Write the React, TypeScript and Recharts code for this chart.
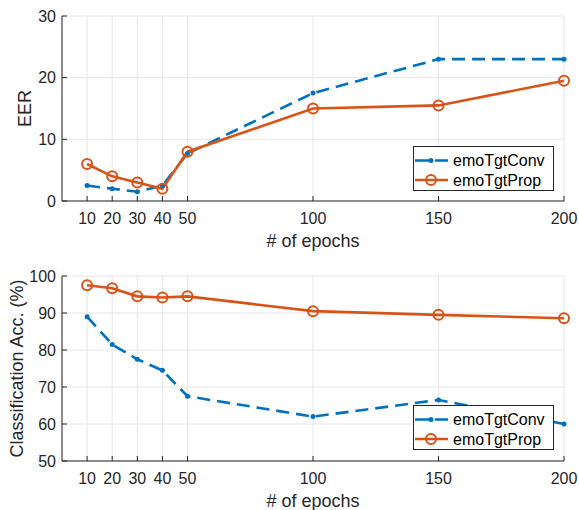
import React from 'react';
import { LineChart, Line, XAxis, YAxis, CartesianGrid, Legend } from 'recharts';

const epochs = [10, 20, 30, 40, 50, 100, 150, 200];
const eerConv = [2.5, 2, 1.5, 2.5, 7.7, 17.5, 23, 23];
const eerProp = [6, 4, 3, 2, 8, 15, 15.5, 19.5];
const accConv = [89, 81.5, 77.5, 74.5, 67.5, 62, 66.5, 60];
const accProp = [97.5, 96.7, 94.5, 94.2, 94.5, 90.5, 89.5, 88.6];
const xTicks = [10, 20, 30, 40, 50, 100, 150, 200];
const eerTicks = [0, 10, 20, 30];
const accTicks = [50, 60, 70, 80, 90, 100];
const seriesNames = ['emoTgtConv', 'emoTgtProp'];

const BLUE = '#0072BD';
const ORANGE = '#D95319';
const AX = '#262626';
const FONT = '"Liberation Sans", Arial, Helvetica, sans-serif';
const DASH = '13 7';

const eerData = epochs.map((e, i) => ({ epoch: e, conv: eerConv[i], prop: eerProp[i] }));
const accData = epochs.map((e, i) => ({ epoch: e, conv: accConv[i], prop: accProp[i] }));

const BottomTick = (p: any) => (
  <g>
    <line x1={p.x} y1={p.y} x2={p.x} y2={p.y - 5} stroke={AX} />
    <text x={p.x} y={p.y + 17} textAnchor="middle" dominantBaseline="central" fontSize={16} fill={AX} fontFamily={FONT}>
      {p.payload.value}
    </text>
  </g>
);
const TopTick = (p: any) => (
  <line x1={p.x} y1={p.y} x2={p.x} y2={p.y + 5} stroke={AX} />
);
const LeftTick = (p: any) => (
  <g>
    <line x1={p.x} y1={p.y} x2={p.x + 5} y2={p.y} stroke={AX} />
    <text x={p.x - 6} y={p.y} textAnchor="end" dominantBaseline="central" fontSize={16} fill={AX} fontFamily={FONT}>
      {p.payload.value}
    </text>
  </g>
);
const RightTick = (p: any) => (
  <line x1={p.x} y1={p.y} x2={p.x - 5} y2={p.y} stroke={AX} />
);

const XTitle = (p: any) => {
  const vb = p.viewBox;
  return (
    <text x={vb.x + vb.width / 2} y={vb.y + 46} textAnchor="middle" fontSize={18} fill={AX} fontFamily={FONT}>
      {p.value}
    </text>
  );
};
const makeYTitle = (dx: number) => (p: any) => {
  const vb = p.viewBox;
  const cx = vb.x + dx;
  const cy = vb.y + vb.height / 2;
  return (
    <text x={cx} y={cy} transform={`rotate(-90 ${cx} ${cy})`} textAnchor="middle" dominantBaseline="central" fontSize={18} fill={AX} fontFamily={FONT}>
      {p.value}
    </text>
  );
};

const LegendBox = () => (
  <svg width={141} height={45} style={{ display: 'block' }}>
    <rect x={0.5} y={0.5} width={140} height={44} fill="#fff" stroke={AX} strokeWidth={1} />
    <line x1={2} y1={14.5} x2={35} y2={14.5} stroke={BLUE} strokeWidth={2.6} strokeDasharray="14 6" />
    <circle cx={18} cy={14.5} r={2.5} fill={BLUE} />
    <text x={40} y={14.5} dominantBaseline="central" fontSize={16} fill="#000" fontFamily={FONT}>{seriesNames[0]}</text>
    <line x1={2} y1={34} x2={35} y2={34} stroke={ORANGE} strokeWidth={2.6} />
    <circle cx={18} cy={34} r={5} fill="none" stroke={ORANGE} strokeWidth={2} />
    <text x={40} y={34} dominantBaseline="central" fontSize={16} fill="#000" fontFamily={FONT}>{seriesNames[1]}</text>
  </svg>
);

const Panel = ({ data, yTicks, yDomain, yTitle, yTitleDx, top, legendTop }: any) => (
  <div style={{ position: 'absolute', left: 0, top }}>
    <LineChart width={579} height={255} data={data} margin={{ top: top === 0 ? 16 : 21, right: 15, left: 0, bottom: 0 }}>
      <CartesianGrid stroke="#e6e6e6" />
      <XAxis
        dataKey="epoch"
        type="number"
        domain={[0, 200]}
        ticks={xTicks}
        interval={0}
        height={top === 0 ? 54 : 49}
        stroke={AX}
        tickLine={false}
        tickSize={0}
        tickMargin={0}
        tick={BottomTick}
        label={{ value: '# of epochs', content: XTitle }}
      />
      <XAxis xAxisId="top" orientation="top" type="number" domain={[0, 200]} ticks={xTicks} interval={0} height={0} stroke={AX} tickLine={false} tickSize={0} tickMargin={0} tick={TopTick} />
      <YAxis
        type="number"
        domain={yDomain}
        ticks={yTicks}
        interval={0}
        width={62}
        stroke={AX}
        tickLine={false}
        tickSize={0}
        tickMargin={0}
        tick={LeftTick}
        label={{ value: yTitle, content: makeYTitle(yTitleDx) }}
      />
      <YAxis yAxisId="right" orientation="right" type="number" domain={yDomain} ticks={yTicks} interval={0} width={0} stroke={AX} tickLine={false} tickSize={0} tickMargin={0} tick={RightTick} />
      <Line
        dataKey="conv"
        name={seriesNames[0]}
        stroke={BLUE}
        strokeWidth={2.6}
        strokeDasharray={DASH}
        dot={{ r: 2.5, fill: BLUE, stroke: BLUE, strokeWidth: 0, strokeDasharray: '' }}
        isAnimationActive={false}
      />
      <Line
        dataKey="prop"
        name={seriesNames[1]}
        stroke={ORANGE}
        strokeWidth={2.6}
        dot={{ r: 5, fill: 'none', stroke: ORANGE, strokeWidth: 2 }}
        isAnimationActive={false}
      />
      <Legend
        layout="vertical"
        align="center"
        verticalAlign="middle"
        content={LegendBox}
        wrapperStyle={{ position: 'absolute', left: 413, top: legendTop, width: 141, height: 45 }}
      />
    </LineChart>
  </div>
);

export default function App() {
  return (
    <div style={{ position: 'absolute', left: 0, top: 0, width: 579, height: 510, background: '#fff' }}>
      <Panel data={eerData} yTicks={eerTicks} yDomain={[0, 30]} yTitle="EER" yTitleDx={25} top={0} legendTop={146} />
      <Panel data={accData} yTicks={accTicks} yDomain={[50, 100]} yTitle="Classification Acc. (%)" yTitleDx={16.5} top={255} legendTop={150} />
    </div>
  );
}
